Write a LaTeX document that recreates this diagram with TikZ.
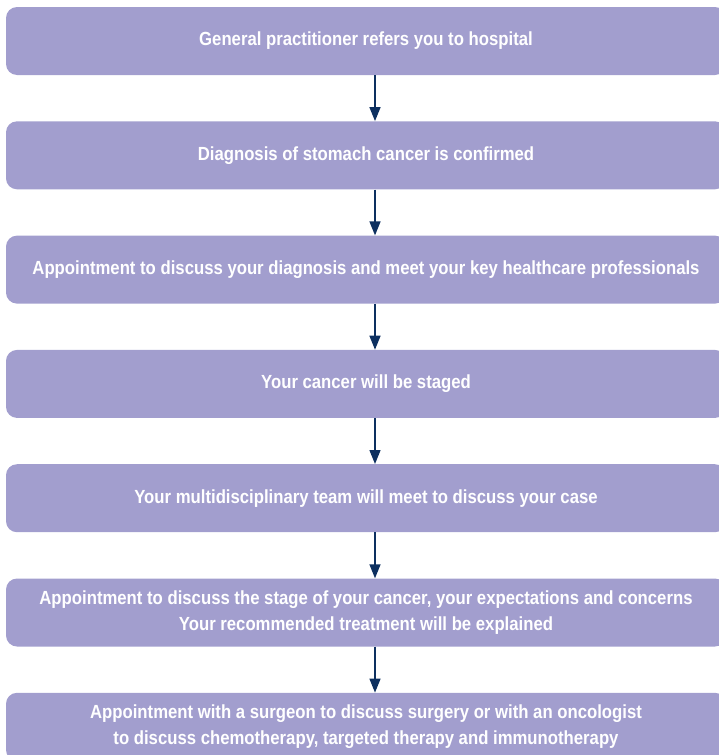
\documentclass[tikz,border=0pt]{standalone}
\usepackage{fontspec}
\setmainfont[FakeStretch=0.88]{Liberation Sans}
\usetikzlibrary{arrows.meta}
\definecolor{stepfill}{HTML}{A29ECE}
\definecolor{arrowblue}{HTML}{0D3060}
\tikzset{
  stepbox/.style={fill=stepfill, rounded corners=11pt, minimum width=720pt,
    minimum height=68pt, align=center, text=white,
    font=\bfseries\fontsize{19}{26}\selectfont},
  flow/.style={arrowblue, line width=1.4pt, -{Triangle[width=11pt,length=14pt]}}
}
\begin{document}
\begin{tikzpicture}[x=1pt, y=-1pt]
	\useasboundingbox (0,0) rectangle (719,755);
	\clip (0,0) rectangle (719,755);
	\node[stepbox] (gp) at (366, 41) {General practitioner refers you to hospital};
	\node[stepbox] (diag) at (366, 155.3) {Diagnosis of stomach cancer is confirmed};
	\node[stepbox] (meet) at (366, 269.6) {Appointment to discuss your diagnosis and meet your key healthcare professionals};
	\node[stepbox] (stage) at (366, 383.9) {Your cancer will be staged};
	\node[stepbox] (mdt) at (366, 498.2) {Your multidisciplinary team will meet to discuss your case};
	\node[stepbox] (expl) at (366, 612.5) {Appointment to discuss the stage of your cancer, your expectations and concerns\\Your recommended treatment will be explained};
	\node[stepbox] (surg) at (366, 726.8) {Appointment with a surgeon to discuss surgery or with an oncologist\\to discuss chemotherapy, targeted therapy and immunotherapy};
	\draw[flow] ([xshift=9pt]gp.south) -- ([xshift=9pt]diag.north);
	\draw[flow] ([xshift=9pt]diag.south) -- ([xshift=9pt]meet.north);
	\draw[flow] ([xshift=9pt]meet.south) -- ([xshift=9pt]stage.north);
	\draw[flow] ([xshift=9pt]stage.south) -- ([xshift=9pt]mdt.north);
	\draw[flow] ([xshift=9pt]mdt.south) -- ([xshift=9pt]expl.north);
	\draw[flow] ([xshift=9pt]expl.south) -- ([xshift=9pt]surg.north);
\end{tikzpicture}
\end{document}
